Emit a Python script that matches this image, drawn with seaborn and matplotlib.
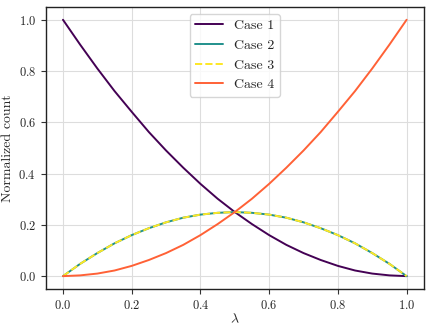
import numpy as np
import pandas as pd
import matplotlib
matplotlib.use("Agg")
import matplotlib.pyplot as plt
import seaborn as sns

lam = [0.0, 0.05, 0.1, 0.15, 0.2, 0.25, 0.3, 0.35, 0.4, 0.45, 0.5,
       0.55, 0.6, 0.65, 0.7, 0.75, 0.8, 0.85, 0.9, 0.95, 1.0]
case1 = [1.0, 0.903, 0.81, 0.722, 0.641, 0.562, 0.49, 0.423, 0.36, 0.302, 0.25,
         0.203, 0.16, 0.122, 0.09, 0.063, 0.04, 0.022, 0.01, 0.003, 0.0]
case2 = [0.0, 0.048, 0.09, 0.128, 0.16, 0.187, 0.21, 0.228, 0.24, 0.247, 0.25,
         0.247, 0.24, 0.228, 0.21, 0.187, 0.16, 0.128, 0.09, 0.048, 0.0]
case3 = [0.0, 0.048, 0.09, 0.128, 0.16, 0.187, 0.21, 0.228, 0.24, 0.247, 0.25,
         0.247, 0.24, 0.228, 0.21, 0.187, 0.16, 0.128, 0.09, 0.048, 0.0]
case4 = [0.0, 0.003, 0.01, 0.022, 0.04, 0.063, 0.09, 0.122, 0.16, 0.203, 0.25,
         0.302, 0.36, 0.423, 0.49, 0.562, 0.641, 0.722, 0.81, 0.903, 1.0]

sns.set_style("whitegrid")
plt.rcParams["font.family"] = ["cmr10", "DejaVu Serif"]
plt.rcParams["mathtext.fontset"] = "cm"
plt.rcParams["axes.formatter.use_mathtext"] = True

fig, ax = plt.subplots(figsize=(4.32, 3.31), dpi=100)
fig.subplots_adjust(left=0.106, right=0.981, top=0.979, bottom=0.127)

styles = [("Case 1", case1, "#440154", "-"),
          ("Case 2", case2, "#21918c", "-"),
          ("Case 3", case3, "#fde725", "--"),
          ("Case 4", case4, "#ff6136", "-")]
for name, vals, col, ls in styles:
    sns.lineplot(x=lam, y=vals, ax=ax, color=col, linestyle=ls, linewidth=1.4, label=name)

ax.set_xlabel(r"$\lambda$", fontsize=10, labelpad=1)
ax.set_ylabel("Normalized count", fontsize=10)
ax.yaxis.set_label_coords(-0.085, 0.5)
ax.tick_params(labelsize=9, length=3.5, color="#333333", left=True, bottom=True)
ax.grid(True, color="#dddddd", linewidth=0.8)
for s in ax.spines.values():
    s.set_color("#222222")
    s.set_linewidth(1.0)
ax.legend(loc="upper center", fontsize=10, framealpha=0.8, edgecolor="#cccccc",
          handlelength=2.0)
fig.savefig("out.png", dpi=100)
